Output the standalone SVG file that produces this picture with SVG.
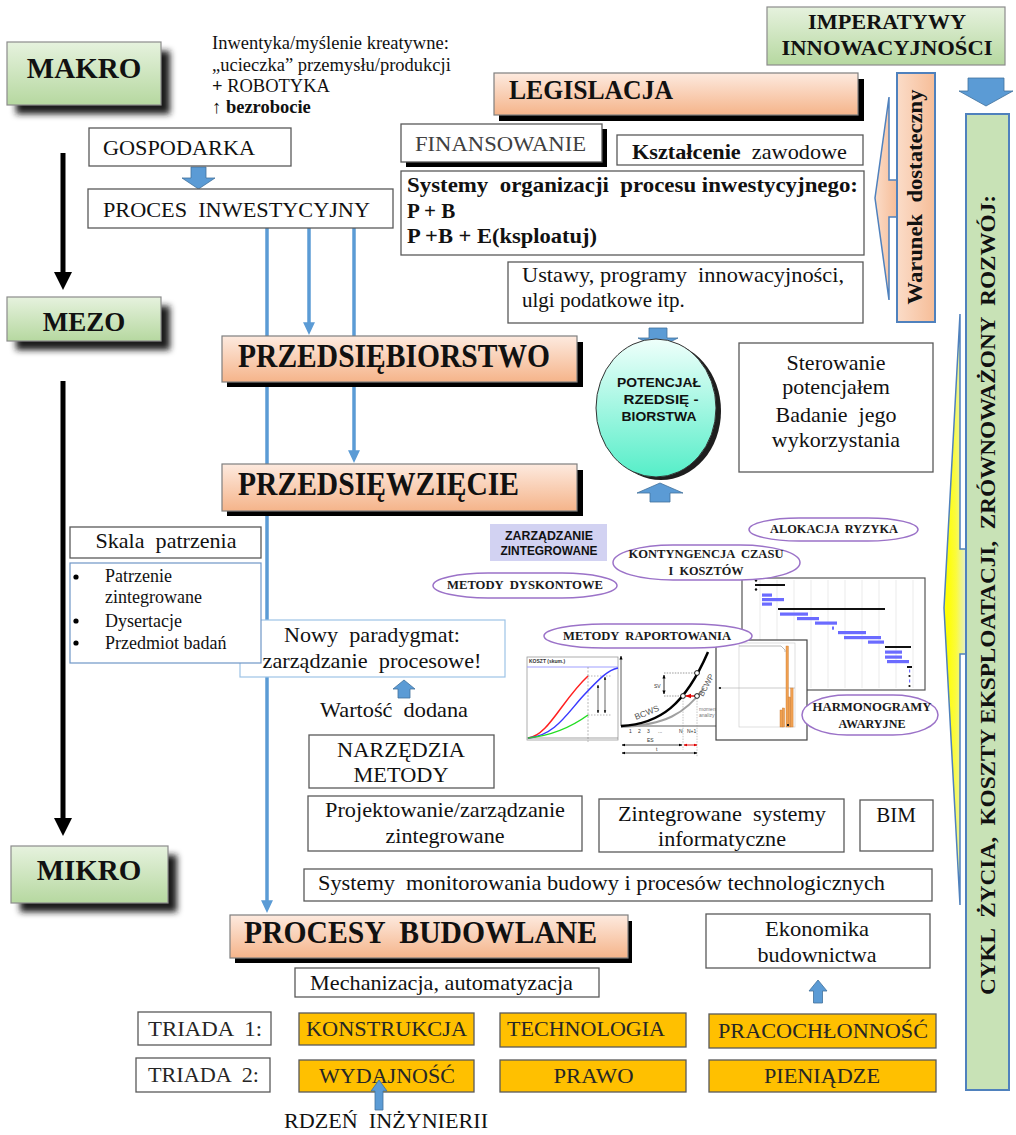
<svg xmlns="http://www.w3.org/2000/svg" width="1016" height="1135" viewBox="0 0 1016 1135" xml:space="preserve">
<defs>
  <linearGradient id="gGreen" x1="0" y1="0" x2="0" y2="1">
    <stop offset="0" stop-color="#e6f2de"/>
    <stop offset="1" stop-color="#b6d8a0"/>
  </linearGradient>
  <linearGradient id="gOrange" x1="0" y1="0" x2="0" y2="1">
    <stop offset="0" stop-color="#fdeadf"/>
    <stop offset="1" stop-color="#f5b48a"/>
  </linearGradient>
  <linearGradient id="gPeach" x1="0" y1="0" x2="1" y2="0">
    <stop offset="0" stop-color="#fbdcc8"/>
    <stop offset="1" stop-color="#f6bd98"/>
  </linearGradient>
  <linearGradient id="gCyan" x1="0" y1="0" x2="0" y2="1">
    <stop offset="0" stop-color="#effffb"/>
    <stop offset="1" stop-color="#55eec8"/>
  </linearGradient>
  <radialGradient id="gYellow" cx="0.15" cy="0.5" r="0.8">
    <stop offset="0" stop-color="#ffff00"/>
    <stop offset="0.5" stop-color="#fbfb3c"/>
    <stop offset="1" stop-color="#e4efc0"/>
  </radialGradient>
  <filter id="blurShadow" x="-20%" y="-30%" width="150%" height="170%">
    <feGaussianBlur stdDeviation="3"/>
  </filter>
  <marker id="headBlack" viewBox="0 0 10 10" refX="4" refY="5" markerWidth="3.6" markerHeight="3.6" preserveAspectRatio="none" orient="auto">
    <path d="M0,0 L10,5 L0,10 z" fill="#000"/>
  </marker>
  <marker id="headBlue" viewBox="0 0 10 10" refX="4" refY="5" markerWidth="3.6" markerHeight="3.4" preserveAspectRatio="none" orient="auto">
    <path d="M0,0 L10,5 L0,10 z" fill="#5b9bd5"/>
  </marker>
  <marker id="tinyHead" viewBox="0 0 10 10" refX="9" refY="5" markerWidth="5" markerHeight="5" orient="auto-start-reverse">
    <path d="M0,1 L10,5 L0,9 z" fill="#000"/>
  </marker>
  <marker id="tinyRed" viewBox="0 0 10 10" refX="9" refY="5" markerWidth="4" markerHeight="4" orient="auto-start-reverse">
    <path d="M0,1 L10,5 L0,9 z" fill="#e00000"/>
  </marker>
</defs>
<style>
  text{font-family:"Liberation Serif","Times New Roman",serif;fill:#111;white-space:pre}
  .s21{font-size:21px}
  .s22{font-size:22px}
  .b{font-weight:bold}
  .sans{font-family:"Liberation Sans",Arial,sans-serif}
  .mid{text-anchor:middle}
  .box{fill:#fff;stroke:#595959;stroke-width:1.3}
  .green{fill:url(#gGreen);stroke:#8c8c8c;stroke-width:1.2}
  .orange{fill:url(#gOrange);stroke:#7f7f7f;stroke-width:1.2}
  .shadow{fill:#000}
  .soft{fill:#1a1a1a;filter:url(#blurShadow)}
  .gold{fill:#ffc000;stroke:#595959;stroke-width:1.3}
  .gold-t{font-size:21px;fill:#262626}
  .pill{fill:#fff;stroke:#9b72c8;stroke-width:1.5}
  .pill-t{font-weight:bold;font-size:12.5px;text-anchor:middle;fill:#1a1a1a}
  .blue{stroke:#5b9bd5;stroke-width:3.5;fill:none;marker-end:url(#headBlue)}
  .black{stroke:#000;stroke-width:5;fill:none;marker-end:url(#headBlack)}
  .fat{fill:#5b9bd5;stroke:#41719c;stroke-width:0.8}
  .grid{stroke:#dedede;stroke-width:0.6}
  .gbar{fill:#6b6bff}
  .sbar{fill:#111}
  .orbar{fill:#f0a050;stroke:#c87830;stroke-width:0.4}
  .tiny{font-family:"Liberation Sans",Arial,sans-serif;font-size:5px;fill:#333}
</style>

<!-- connectors -->
<g id="connectors">
  <line class="black" x1="63" y1="153" x2="63" y2="279.2"/>
  <line class="black" x1="63" y1="381" x2="63" y2="825.2"/>
  <line class="blue" x1="267" y1="228" x2="267" y2="905.4"/>
  <line class="blue" x1="309" y1="228" x2="309" y2="327.4"/>
  <line class="blue" x1="354" y1="228" x2="354" y2="455.4"/>
  <polygon class="fat" points="191,167 206,167 206,178 215,178 198.5,189 182,178 191,178"/>
  <polygon class="fat" points="968,78 1004,78 1004,91 1013,91 986,106 959,91 968,91"/>
  <polygon class="fat" points="649,328 667,328 667,338 678,338 658,348 638,338 649,338"/>
  <polygon class="fat" points="660,483 683,493 670,493 670,502 650,502 650,493 637,493"/>
  <polygon class="fat" points="404,680 415,689 410,689 410,698 398,698 398,689 393,689"/>
  <polygon class="fat" points="818,980 827,991 822.5,991 822.5,1003 813.5,1003 813.5,991 809,991"/>
</g>

<!-- level labels -->
<g id="makro">
  <rect class="soft" x="16" y="51" width="154" height="63"/>
  <rect class="green" x="7" y="42" width="154" height="63"/>
  <text class="b mid" x="84" y="78" font-size="29">MAKRO</text>
</g>
<g id="mezo">
  <rect class="soft" x="16" y="306" width="154" height="44"/>
  <rect class="green" x="7" y="297" width="154" height="44"/>
  <text class="b mid" x="84" y="331" font-size="27">MEZO</text>
</g>
<g id="mikro">
  <rect class="soft" x="20" y="855" width="157" height="57"/>
  <rect class="green" x="11" y="846" width="157" height="57"/>
  <text class="b mid" x="89" y="880" font-size="29">MIKRO</text>
</g>

<g id="intro">
  <text x="212" y="49" font-size="18.5">Inwentyka/myślenie kreatywne:</text>
  <text x="212" y="71" font-size="18.5">„ucieczka” przemysłu/produkcji</text>
  <text x="212" y="92" font-size="18.5"><tspan font-weight="bold">+</tspan> ROBOTYKA</text>
  <text x="212" y="113" font-size="18.5">↑ <tspan font-weight="bold">bezrobocie</tspan></text>
</g>

<g id="gospodarka">
  <rect class="box" x="89" y="128" width="202" height="38"/>
  <text class="s22" x="103" y="155" textLength="152" lengthAdjust="spacingAndGlyphs">GOSPODARKA</text>
</g>
<g id="proces-inwestycyjny">
  <rect class="box" x="88" y="189" width="305" height="39"/>
  <text class="s22" x="103" y="217" textLength="267" lengthAdjust="spacingAndGlyphs">PROCES  INWESTYCYJNY</text>
</g>

<g id="imperatywy">
  <rect x="767" y="7" width="238" height="58" fill="url(#gGreen)" stroke="#8c8c8c" stroke-width="1.2"/>
  <text class="b mid" x="887" y="29" font-size="22" textLength="158" lengthAdjust="spacingAndGlyphs">IMPERATYWY</text>
  <text class="b mid" x="887" y="55" font-size="22" textLength="211" lengthAdjust="spacingAndGlyphs">INNOWACYJNOŚCI</text>
</g>

<g id="legislacja">
  <rect class="shadow" x="499" y="79" width="365" height="42"/>
  <rect class="orange" x="494" y="73" width="364" height="42"/>
  <text class="b" x="509" y="99" font-size="27" textLength="164" lengthAdjust="spacingAndGlyphs">LEGISLACJA</text>
</g>

<g id="warunek">
  <polygon points="889,97 875,198 889,300 889,217 897,217 897,180 889,180" fill="url(#gPeach)" stroke="#4f81bd" stroke-width="1.5"/>
  <rect x="897" y="73" width="38" height="249" fill="url(#gPeach)" stroke="#4f81bd" stroke-width="2"/>
  <text class="b mid" transform="translate(922,197) rotate(-90)" font-size="21" textLength="215" lengthAdjust="spacingAndGlyphs">Warunek  dostateczny</text>
</g>

<g id="cykl-zycia">
  <polygon points="960,314 944,608 960,905 960,654 966,654 966,549 960,549" fill="url(#gYellow)" stroke="#4f81bd" stroke-width="1.5"/>
  <rect x="966" y="114" width="43" height="976" fill="#c8e2b6" stroke="#4f81bd" stroke-width="2"/>
  <text class="b mid" transform="translate(995,595) rotate(-90)" font-size="22" textLength="800" lengthAdjust="spacingAndGlyphs">CYKL  ŻYCIA,  KOSZTY EKSPLOATACJI,  ZRÓWNOWAŻONY  ROZWÓJ:</text>
</g>

<g id="finansowanie">
  <rect class="shadow" x="406" y="129" width="201" height="38"/>
  <rect class="box" x="401" y="124" width="201" height="38"/>
  <text class="s22" x="415" y="151" style="fill:#404040" textLength="171" lengthAdjust="spacingAndGlyphs">FINANSOWANIE</text>
</g>
<g id="ksztalcenie">
  <rect class="box" x="617" y="135" width="246" height="30"/>
  <text class="s21" x="632" y="159" textLength="215" lengthAdjust="spacingAndGlyphs"><tspan font-weight="bold">Kształcenie</tspan>  zawodowe</text>
</g>
<g id="systemy-organizacji">
  <rect class="box" x="401" y="171" width="463" height="84"/>
  <text class="s21 b" x="407" y="192" textLength="451" lengthAdjust="spacingAndGlyphs">Systemy  organizacji  procesu inwestycyjnego:</text>
  <text class="s21 b" x="407" y="218">P + B</text>
  <text class="s21 b" x="407" y="243" textLength="190" lengthAdjust="spacingAndGlyphs">P +B + E(ksploatuj)</text>
</g>
<g id="ustawy">
  <rect class="box" x="508" y="262" width="355" height="61"/>
  <text class="s21" x="522" y="282" textLength="322" lengthAdjust="spacingAndGlyphs">Ustawy, programy  innowacyjności,</text>
  <text class="s21" x="522" y="307">ulgi podatkowe itp.</text>
</g>

<g id="przedsiebiorstwo">
  <rect class="shadow" x="227" y="342" width="356" height="45"/>
  <rect class="orange" x="222" y="336" width="355" height="46"/>
  <text class="b" x="238" y="367" font-size="33" textLength="312" lengthAdjust="spacingAndGlyphs">PRZEDSIĘBIORSTWO</text>
</g>
<g id="przedsiewziecie">
  <rect class="shadow" x="227" y="470" width="356" height="46"/>
  <rect class="orange" x="222" y="464" width="355" height="47"/>
  <text class="b" x="238" y="495" font-size="33" textLength="281" lengthAdjust="spacingAndGlyphs">PRZEDSIĘWZIĘCIE</text>
</g>

<g id="potencjal">
  <ellipse cx="661" cy="411" rx="60" ry="69" fill="#1e1e1e"/>
  <ellipse cx="656" cy="408" rx="60" ry="69" fill="url(#gCyan)" stroke="#333" stroke-width="1"/>
  <text class="sans b mid" x="659" y="387" font-size="13.5" textLength="84" lengthAdjust="spacingAndGlyphs">POTENCJAŁ</text>
  <text class="sans b mid" x="661" y="404" font-size="13.5" textLength="75" lengthAdjust="spacingAndGlyphs">RZEDSIĘ -</text>
  <text class="sans b mid" x="659" y="421" font-size="13.5" textLength="75" lengthAdjust="spacingAndGlyphs">BIORSTWA</text>
</g>

<g id="sterowanie">
  <rect class="box" x="739" y="343" width="194" height="129"/>
  <text class="s22 mid" x="836" y="370">Sterowanie</text>
  <text class="s22 mid" x="836" y="394">potencjałem</text>
  <text class="s22 mid" x="836" y="422">Badanie  jego</text>
  <text class="s22 mid" x="836" y="447">wykorzystania</text>
</g>

<g id="skala-patrzenia">
  <rect class="box" x="70" y="527" width="191" height="31"/>
  <text class="s21 mid" x="166" y="548" textLength="141" lengthAdjust="spacingAndGlyphs">Skala  patrzenia</text>
</g>

<g id="nowy-paradygmat">
  <rect x="240" y="620" width="265" height="57" fill="#fff" stroke="#9dc3e6" stroke-width="1.2"/>
  <text class="s22 mid" x="372" y="642" textLength="176" lengthAdjust="spacingAndGlyphs">Nowy  paradygmat:</text>
  <text class="s22 mid" x="372" y="668" textLength="219" lengthAdjust="spacingAndGlyphs">zarządzanie  procesowe!</text>
</g>

<g id="skala-lista">
  <rect x="70" y="563" width="191" height="100" fill="#fff" stroke="#6f96c6" stroke-width="1.2"/>
  <circle cx="76" cy="577" r="2.6" fill="#000"/>
  <circle cx="76" cy="621" r="2.6" fill="#000"/>
  <circle cx="76" cy="643" r="2.6" fill="#000"/>
  <text x="105" y="582" font-size="18">Patrzenie</text>
  <text x="105" y="603" font-size="18">zintegrowane</text>
  <text x="105" y="627" font-size="18">Dysertacje</text>
  <text x="105" y="649" font-size="18">Przedmiot badań</text>
</g>

<g id="wartosc-dodana">
  <text class="s21 mid" x="394" y="717" textLength="148" lengthAdjust="spacingAndGlyphs">Wartość  dodana</text>
</g>

<g id="narzedzia">
  <rect class="box" x="309" y="735" width="185" height="53"/>
  <text class="s22 mid" x="401" y="757" textLength="128" lengthAdjust="spacingAndGlyphs">NARZĘDZIA</text>
  <text class="s22 mid" x="401" y="782" textLength="95" lengthAdjust="spacingAndGlyphs">METODY</text>
</g>

<!-- figures: charts and labelled methods -->
<g id="zarzadzanie-zintegrowane">
  <rect x="490" y="524" width="117" height="37" fill="#d2d2f2"/>
  <text class="sans b mid" x="549" y="540" font-size="13" textLength="88" lengthAdjust="spacingAndGlyphs">ZARZĄDZANIE</text>
  <text class="sans b mid" x="549" y="555" font-size="13" textLength="97" lengthAdjust="spacingAndGlyphs">ZINTEGROWANE</text>
</g>

<g id="chart-gantt">
  <rect x="742" y="578" width="183" height="112" fill="#fff" stroke="#555" stroke-width="1.2"/>
  <g class="grid">
    <line x1="760" y1="580" x2="760" y2="688"/>
    <line x1="777" y1="580" x2="777" y2="688"/>
    <line x1="794" y1="580" x2="794" y2="688"/>
    <line x1="811" y1="580" x2="811" y2="688"/>
    <line x1="828" y1="580" x2="828" y2="688"/>
    <line x1="845" y1="580" x2="845" y2="688"/>
    <line x1="862" y1="580" x2="862" y2="688"/>
    <line x1="879" y1="580" x2="879" y2="688"/>
    <line x1="896" y1="580" x2="896" y2="688"/>
    <line x1="913" y1="580" x2="913" y2="688"/>
  </g>
  <circle cx="756" cy="580.5" r="1.2" fill="#111"/>
  <rect class="sbar" x="755" y="584" width="30" height="2"/>
  <circle cx="756" cy="589.5" r="1.2" fill="#111"/>
  <rect class="gbar" x="762" y="593.5" width="10" height="3.2"/>
  <rect class="gbar" x="762" y="598" width="22" height="3.2"/>
  <rect class="gbar" x="762" y="602.5" width="10" height="3.2"/>
  <rect class="sbar" x="778" y="608" width="107" height="2"/>
  <rect class="gbar" x="780" y="612.5" width="28" height="3.2"/>
  <rect class="gbar" x="797" y="617" width="22" height="3.2"/>
  <rect class="gbar" x="815" y="621.5" width="22" height="3.2"/>
  <rect class="gbar" x="832" y="626.5" width="2" height="3.2"/>
  <rect class="gbar" x="838" y="631" width="28" height="3.2"/>
  <rect class="gbar" x="844" y="636" width="37" height="3.2"/>
  <rect class="gbar" x="868" y="640.5" width="16" height="3.2"/>
  <rect class="sbar" x="885" y="646" width="26" height="2"/>
  <rect class="gbar" x="885" y="650.5" width="17" height="3.2"/>
  <rect class="gbar" x="885" y="655.5" width="17" height="3.2"/>
  <rect class="gbar" x="887" y="660" width="22" height="3.2"/>
  <rect class="sbar" x="907" y="666" width="5" height="2"/>
  <rect class="gbar" x="909" y="669.5" width="1.2" height="3"/>
  <circle cx="909.5" cy="676" r="1.1" fill="#111"/>
  <rect class="gbar" x="909" y="679.5" width="1.2" height="3"/>
  <circle cx="909.5" cy="686" r="1.1" fill="#111"/>
</g>

<g id="chart-koszt">
  <rect x="527" y="657" width="91" height="83" fill="#fff" stroke="#999" stroke-width="0.8"/>
  <text class="tiny" x="529" y="662.5" font-weight="bold">KOSZT (skum.)</text>
  <line x1="527" y1="667" x2="618" y2="667" stroke="#a0a0ff" stroke-width="1.2"/>
  <line x1="588" y1="667" x2="588" y2="742" stroke="#888" stroke-width="0.6" stroke-dasharray="2 1.5"/>
  <path d="M588,676 H612 M588,715 H612" stroke="#888" stroke-width="0.6" stroke-dasharray="1.5 1.5" fill="none"/>
  <path d="M528,738 C548,736 562,700 588,676" stroke="#ff2020" stroke-width="1.5" fill="none"/>
  <path d="M528,738 C555,736 568,712 584,695 S608,670 618,668" stroke="#3a3aff" stroke-width="1.5" fill="none"/>
  <path d="M528,738 C548,736 570,728 588,715" stroke="#22dd22" stroke-width="1.5" fill="none"/>
  <line x1="598" y1="685" x2="598" y2="713" stroke="#000" stroke-width="0.6" marker-start="url(#tinyHead)" marker-end="url(#tinyHead)"/>
  <line x1="605" y1="677" x2="605" y2="713" stroke="#000" stroke-width="0.6" marker-start="url(#tinyHead)" marker-end="url(#tinyHead)"/>
  <line x1="527" y1="738" x2="618" y2="738" stroke="#666" stroke-width="0.6"/>
</g>

<g id="chart-ev">
  <rect x="619" y="653" width="97" height="104" fill="#fff"/>
  <line x1="621" y1="726" x2="621" y2="656" stroke="#333" stroke-width="0.8" marker-end="url(#tinyHead)"/>
  <line x1="621" y1="726" x2="716" y2="726" stroke="#333" stroke-width="0.8"/>
  <path d="M621,727 C665,725 685,714 704,688" stroke="#a0a0a0" stroke-width="2" fill="none"/>
  <path d="M621,726 C660,724 685,705 708,652" stroke="#000" stroke-width="2.5" fill="none"/>
  <text class="sans" transform="translate(636,720) rotate(-22)" font-size="8.5" style="fill:#555">BCWS</text>
  <text class="sans" transform="translate(703,697) rotate(-62)" font-size="8" style="fill:#555">BCWP</text>
  <path d="M664,673 H697 M664,696 H683" stroke="#555" stroke-width="0.6" stroke-dasharray="1.5 1.2" fill="none"/>
  <line x1="664" y1="675" x2="664" y2="694" stroke="#000" stroke-width="0.8" marker-start="url(#tinyHead)" marker-end="url(#tinyHead)"/>
  <text class="tiny" x="654" y="688">SV</text>
  <line x1="696" y1="696" x2="686" y2="696" stroke="#e00000" stroke-width="1.4" marker-end="url(#tinyRed)"/>
  <circle cx="683" cy="696" r="2.4" fill="#fff" stroke="#000" stroke-width="0.9"/>
  <circle cx="697" cy="696" r="2.4" fill="#fff" stroke="#000" stroke-width="0.9"/>
  <circle cx="697" cy="673" r="2.4" fill="#fff" stroke="#000" stroke-width="0.9"/>
  <path d="M683,698 V750 M697,698 V757" stroke="#888" stroke-width="0.5" stroke-dasharray="1.5 1.2" fill="none"/>
  <text class="tiny" x="699" y="711" style="fill:#777">moment</text>
  <text class="tiny" x="699" y="717" style="fill:#777">analizy</text>
  <text class="tiny" x="629" y="733">1</text>
  <text class="tiny" x="638" y="733">2</text>
  <text class="tiny" x="647" y="733">3</text>
  <text class="tiny" x="658" y="733">...</text>
  <text class="tiny" x="679" y="733">N</text>
  <text class="tiny" x="687" y="733">N+1</text>
  <line x1="622" y1="745" x2="682" y2="745" stroke="#000" stroke-width="0.7" marker-start="url(#tinyHead)" marker-end="url(#tinyHead)"/>
  <line x1="684" y1="745" x2="697" y2="745" stroke="#e00000" stroke-width="0.9" marker-start="url(#tinyRed)" marker-end="url(#tinyRed)"/>
  <text class="tiny" x="647" y="742">ES</text>
  <line x1="622" y1="753" x2="697" y2="753" stroke="#000" stroke-width="0.7" marker-start="url(#tinyHead)" marker-end="url(#tinyHead)"/>
  <text class="tiny" x="656" y="751">t</text>
</g>

<g id="chart-histogram">
  <rect x="716" y="640" width="91" height="100" fill="#fff" stroke="#444" stroke-width="1.2"/>
  <rect x="739" y="643" width="56" height="84" fill="none" stroke="#c8c8c8" stroke-width="0.6"/>
  <line x1="718" y1="688" x2="795" y2="688" stroke="#aaa" stroke-width="0.6"/>
  <rect x="719" y="687" width="2" height="2" fill="#333"/>
  <path d="M739,646 H781 L785,650 V652" stroke="#aaa" stroke-width="0.8" fill="none"/>
  <rect class="orbar" x="780" y="710" width="2.3" height="17"/>
  <rect class="orbar" x="782.3" y="708" width="2.3" height="19"/>
  <rect class="orbar" x="786" y="646" width="2.4" height="81"/>
  <rect class="orbar" x="788.4" y="697" width="2.3" height="30"/>
  <rect class="orbar" x="790.7" y="688" width="2.4" height="39"/>
  <rect x="787" y="724" width="2" height="2" fill="#222"/>
</g>

<g id="methods">
  <rect class="pill" x="749" y="518" width="169" height="23" rx="50" ry="11.5"/>
  <text class="pill-t" x="834" y="533" textLength="128" lengthAdjust="spacingAndGlyphs">ALOKACJA  RYZYKA</text>
  <rect class="pill" x="613" y="545" width="187" height="35" rx="60" ry="17.5"/>
  <text class="pill-t" x="706" y="558" textLength="155" lengthAdjust="spacingAndGlyphs">KONTYNGENCJA  CZASU</text>
  <text class="pill-t" x="706" y="575" textLength="75" lengthAdjust="spacingAndGlyphs">I  KOSZTÓW</text>
  <rect class="pill" x="433" y="573" width="184" height="25" rx="55" ry="12.5"/>
  <text class="pill-t" x="525" y="589" textLength="156" lengthAdjust="spacingAndGlyphs">METODY  DYSKONTOWE</text>
  <rect class="pill" x="544" y="624" width="208" height="24" rx="60" ry="12"/>
  <text class="pill-t" x="647" y="640" textLength="168" lengthAdjust="spacingAndGlyphs">METODY  RAPORTOWANIA</text>
  <rect class="pill" x="802" y="695" width="136" height="40" rx="45" ry="20"/>
  <text class="pill-t" x="872" y="711" font-size="14.5" textLength="119" lengthAdjust="spacingAndGlyphs">HARMONOGRAMY</text>
  <text class="pill-t" x="872" y="728" font-size="14.5" textLength="67" lengthAdjust="spacingAndGlyphs">AWARYJNE</text>
</g>

<g id="projektowanie">
  <rect class="box" x="308" y="796" width="274" height="55"/>
  <text class="s21 mid" x="445" y="817" textLength="240" lengthAdjust="spacingAndGlyphs">Projektowanie/zarządzanie</text>
  <text class="s21 mid" x="445" y="843" textLength="119" lengthAdjust="spacingAndGlyphs">zintegrowane</text>
</g>
<g id="systemy-informatyczne">
  <rect class="box" x="599" y="799" width="245" height="53"/>
  <text class="s21 mid" x="722" y="821" textLength="208" lengthAdjust="spacingAndGlyphs">Zintegrowane  systemy</text>
  <text class="s21 mid" x="722" y="846" textLength="128" lengthAdjust="spacingAndGlyphs">informatyczne</text>
</g>
<g id="bim">
  <rect class="box" x="860" y="800" width="73" height="51"/>
  <text class="s21 mid" x="896" y="822">BIM</text>
</g>
<g id="monitorowanie">
  <rect class="box" x="304" y="869" width="628" height="32"/>
  <text class="s21" x="318" y="890" textLength="567" lengthAdjust="spacingAndGlyphs">Systemy  monitorowania budowy i procesów technologicznych</text>
</g>

<g id="procesy-budowlane">
  <rect class="shadow" x="235" y="921" width="397" height="42"/>
  <rect class="orange" x="230" y="915" width="398" height="43"/>
  <text class="b" x="244" y="943" font-size="32" textLength="353" lengthAdjust="spacingAndGlyphs">PROCESY  BUDOWLANE</text>
</g>
<g id="ekonomika">
  <rect class="box" x="706" y="914" width="224" height="54"/>
  <text class="s21 mid" x="817" y="936" textLength="104" lengthAdjust="spacingAndGlyphs">Ekonomika</text>
  <text class="s21 mid" x="817" y="962" textLength="119" lengthAdjust="spacingAndGlyphs">budownictwa</text>
</g>
<g id="mechanizacja">
  <rect class="box" x="295" y="968" width="304" height="29"/>
  <text class="s21" x="310" y="990" textLength="263" lengthAdjust="spacingAndGlyphs">Mechanizacja, automatyzacja</text>
</g>

<g id="triada-1">
  <rect class="box" x="138" y="1012" width="133" height="33"/>
  <text class="gold-t" x="148" y="1036" textLength="114" lengthAdjust="spacingAndGlyphs">TRIADA  1:</text>
</g>
<g id="konstrukcja">
  <rect class="gold" x="299" y="1013" width="175" height="32"/>
  <text class="gold-t" x="306" y="1036" textLength="161" lengthAdjust="spacingAndGlyphs">KONSTRUKCJA</text>
</g>
<g id="technologia">
  <rect class="gold" x="500" y="1013" width="186" height="34"/>
  <text class="gold-t" x="507" y="1036" textLength="158" lengthAdjust="spacingAndGlyphs">TECHNOLOGIA</text>
</g>
<g id="pracochlonnosc">
  <rect class="gold" x="709" y="1014" width="227" height="34"/>
  <text class="gold-t" x="718" y="1038" textLength="210" lengthAdjust="spacingAndGlyphs">PRACOCHŁONNOŚĆ</text>
</g>
<g id="triada-2">
  <rect class="box" x="136" y="1058" width="134" height="34"/>
  <text class="gold-t" x="148" y="1082" textLength="111" lengthAdjust="spacingAndGlyphs">TRIADA  2:</text>
</g>
<g id="wydajnosc">
  <rect class="gold" x="299" y="1060" width="175" height="32"/>
  <text class="gold-t mid" x="387" y="1083" textLength="136" lengthAdjust="spacingAndGlyphs">WYDAJNOŚĆ</text>
</g>
<g id="prawo">
  <rect class="gold" x="500" y="1060" width="186" height="32"/>
  <text class="gold-t mid" x="593.5" y="1083" textLength="80" lengthAdjust="spacingAndGlyphs">PRAWO</text>
</g>
<g id="pieniadze">
  <rect class="gold" x="709" y="1060" width="227" height="32"/>
  <text class="gold-t mid" x="822" y="1083" textLength="116" lengthAdjust="spacingAndGlyphs">PIENIĄDZE</text>
</g>

<!-- the core-of-engineering arrow sits over the WYDAJNOŚĆ box -->
<g id="rdzen">
  <polygon class="fat" points="379,1080 387,1091 383,1091 383,1110 375,1110 375,1091 371,1091"/>
  <text class="s21" x="284" y="1128" textLength="204" lengthAdjust="spacingAndGlyphs">RDZEŃ  INŻYNIERII</text>
</g>
</svg>
